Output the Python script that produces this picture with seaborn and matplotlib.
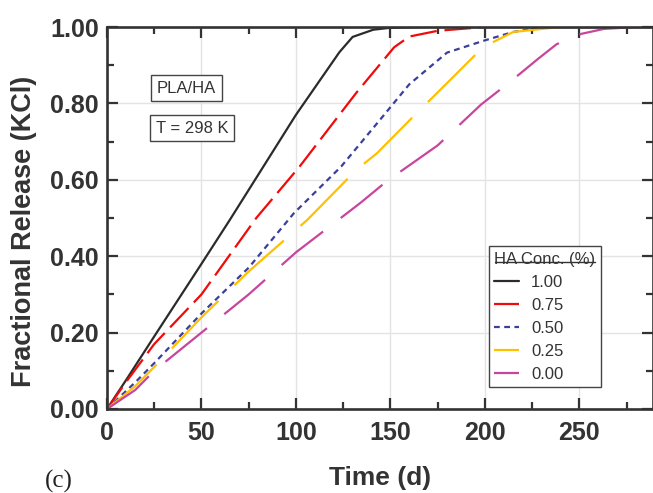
import matplotlib
matplotlib.use("Agg")
import matplotlib.pyplot as plt
from matplotlib.ticker import MultipleLocator, FormatStrFormatter
from matplotlib.lines import Line2D
import seaborn as sns
import pandas as pd

# ---- data ----
conc_labels = ["1.00", "0.75", "0.50", "0.25", "0.00"]

t_100 = [0, 10, 25, 50, 65, 100, 123, 130, 141, 150, 170, 290]
r_100 = [0, 0.075, 0.19, 0.38, 0.495, 0.77, 0.934, 0.974, 0.993, 0.998, 1.0, 1.0]

t_075 = [0, 10, 25, 50, 79, 102, 132, 152, 160, 175, 200, 290]
r_075 = [0, 0.07, 0.17, 0.30, 0.50, 0.635, 0.828, 0.947, 0.975, 0.99, 1.0, 1.0]

t_050 = [0, 15, 25, 50, 75, 99, 124, 146, 160, 180, 200, 215, 230, 290]
r_050 = [0, 0.07, 0.12, 0.25, 0.37, 0.513, 0.635, 0.766, 0.85, 0.933, 0.965, 0.987, 1.0, 1.0]

t_025 = [0, 15, 25, 50, 75, 106, 132, 143, 161, 182, 199, 215, 240, 290]
r_025 = [0, 0.06, 0.11, 0.24, 0.36, 0.495, 0.626, 0.67, 0.76, 0.863, 0.947, 0.987, 1.0, 1.0]

t_000 = [0, 15, 25, 50, 75, 100, 134, 148, 175, 198, 214, 228, 238, 251, 263, 280, 290]
r_000 = [0, 0.05, 0.10, 0.20, 0.30, 0.41, 0.539, 0.596, 0.69, 0.797, 0.859, 0.916, 0.955, 0.982, 0.995, 1.0, 1.0]

x_ticks = [0, 50, 100, 150, 200, 250]
y_ticks = [0.0, 0.2, 0.4, 0.6, 0.8, 1.0]

series_t = [t_100, t_075, t_050, t_025, t_000]
series_r = [r_100, r_075, r_050, r_025, r_000]

rows = []
for lab, ts, rs in zip(conc_labels, series_t, series_r):
    for t, r in zip(ts, rs):
        rows.append({"Time": t, "Release": r, "HA": lab})
df = pd.DataFrame(rows)

colors = {"1.00": "#2b2b2b", "0.75": "#f00a0a", "0.50": "#3a3f9c",
          "0.25": "#ffc000", "0.00": "#c8459e"}
dashes = {"1.00": "", "0.75": (12, 3.5), "0.50": (2.6, 2.0),
          "0.25": (30, 10), "0.00": (24, 10)}

sns.set_theme(style="ticks")
plt.rcParams["font.family"] = ["Liberation Sans", "DejaVu Sans"]
dark = "#333333"

W, H = 653, 493
fig = plt.figure(figsize=(W / 100, H / 100), dpi=100)
ax = fig.add_axes([107 / W, (H - 409) / H, 546 / W, 382 / H])

sns.lineplot(data=df, x="Time", y="Release", hue="HA", style="HA",
             hue_order=conc_labels, style_order=conc_labels,
             palette=colors, dashes=dashes, linewidth=1.6,
             sort=False, estimator=None, ax=ax, legend=True)

ax.set_xlim(0, 289)
ax.set_ylim(0, 1.0)
ax.set_xticks(x_ticks)
ax.set_yticks(y_ticks)
ax.xaxis.set_minor_locator(MultipleLocator(25))
ax.yaxis.set_minor_locator(MultipleLocator(0.1))
ax.yaxis.set_major_formatter(FormatStrFormatter("%.2f"))
ax.grid(True, which="major", color="#e3e3e3", linewidth=1.0)
ax.set_axisbelow(True)

for sp in ax.spines.values():
    sp.set_linewidth(1.9)
    sp.set_color(dark)
ax.tick_params(which="both", direction="in", top=True, right=True,
               color=dark, width=1.6)
ax.tick_params(which="major", length=8, labelsize=18, labelcolor=dark)
ax.tick_params(axis="x", which="major", pad=9)
ax.tick_params(axis="y", which="major", pad=6)
ax.tick_params(which="minor", length=5)
for lab in ax.get_xticklabels() + ax.get_yticklabels():
    lab.set_fontweight("bold")

ax.set_xlabel("Time (d)", fontsize=19, fontweight="bold", color=dark, labelpad=15)
ax.set_ylabel("Fractional Release (KCl)", fontsize=19.5, fontweight="bold",
              color=dark)
ax.yaxis.set_label_coords((37 - 107) / 546, 0.466)

leg = ax.legend(title="HA Conc. (%)", loc="upper left",
                bbox_to_anchor=(0.6996, 0.4267), borderaxespad=0,
                fontsize=12, title_fontsize=12, frameon=True, fancybox=False,
                framealpha=1, edgecolor="#444444", handlelength=1.45,
                labelspacing=0.48, borderpad=0.33, handletextpad=0.75,
                alignment="left")
leg.get_frame().set_linewidth(1.0)
for txt in leg.get_texts():
    txt.set_color(dark)
leg.get_title().set_color(dark)

# thin line running through the legend title, as in the reference
fig.add_artist(Line2D([495 / W, 595 / W], [1 - 262 / H, 1 - 262 / H],
                      color=dark, linewidth=1.0, zorder=10))

box = dict(boxstyle="square,pad=0.35", facecolor="white", edgecolor="#444444", linewidth=1.0)
ax.text((157 - 107) / 546, (409 - 88) / 382, "PLA/HA", transform=ax.transAxes,
        fontsize=12, color=dark, va="center", ha="left", bbox=box)
ax.text((156 - 107) / 546, (409 - 128) / 382, "T = 298 K", transform=ax.transAxes,
        fontsize=12, color=dark, va="center", ha="left", bbox=box)

fig.text(45 / W, 1 - 481 / H, "(c)", fontsize=18, color="#222222",
         family=["Liberation Serif", "DejaVu Serif"], va="center", ha="left")

fig.savefig("out.png", dpi=100)
